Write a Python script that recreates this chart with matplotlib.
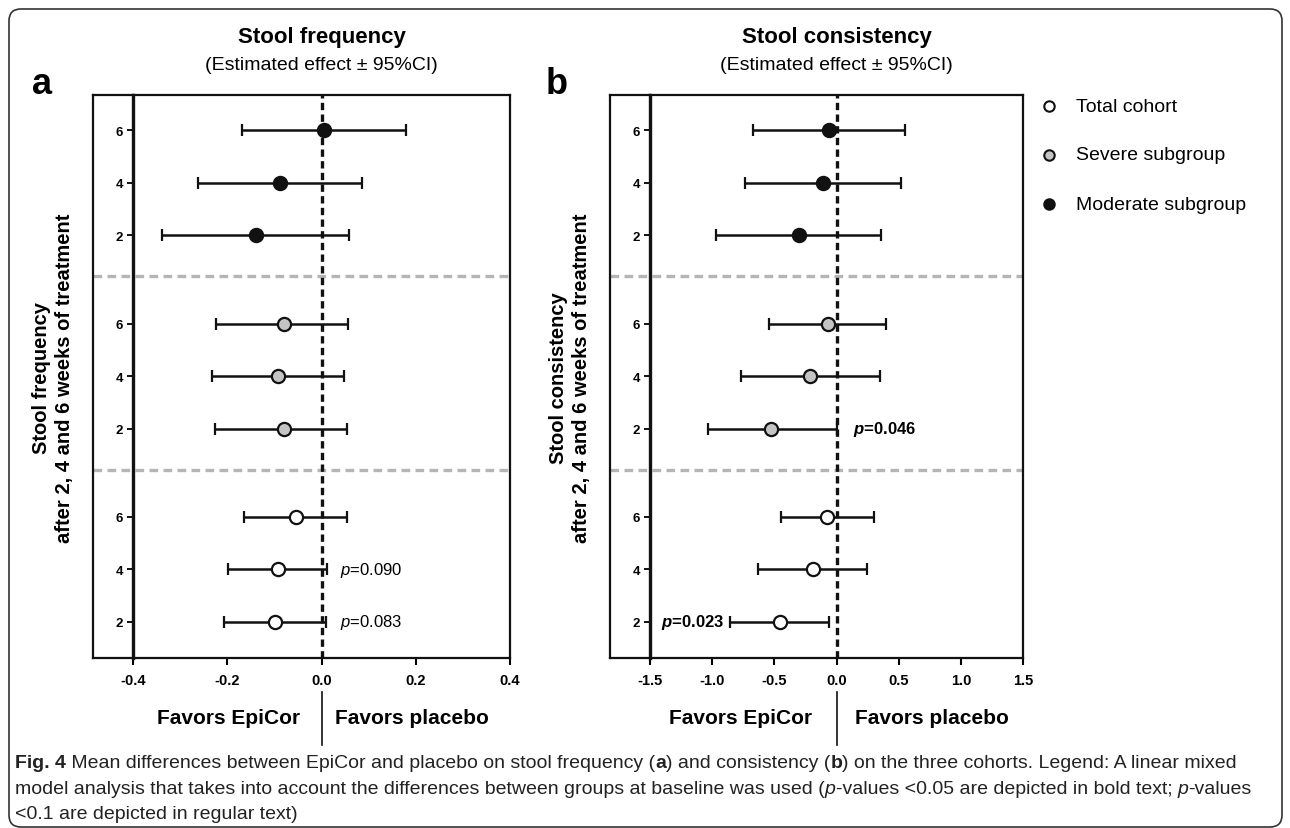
import numpy as np
import matplotlib.pyplot as plt
from matplotlib.lines import Line2D
from matplotlib.patches import FancyBboxPatch

plt.rcParams['font.family'] = ['Liberation Sans', 'DejaVu Sans']
plt.rcParams['mathtext.fontset'] = 'custom'
plt.rcParams['mathtext.rm'] = 'Liberation Sans'
plt.rcParams['mathtext.it'] = 'Liberation Sans:italic'
plt.rcParams['mathtext.bf'] = 'Liberation Sans:bold'
plt.rcParams['mathtext.bfit'] = 'Liberation Sans:italic:bold'

# weeks of treatment (rows inside each cohort block, bottom to top)
weeks = [2, 4, 6]
group_names = ['Total cohort', 'Severe subgroup', 'Moderate subgroup']

# Stool frequency: estimated effect and 95% CI, weeks 2, 4, 6
freq_total_est = [-0.098, -0.093, -0.054]
freq_total_lo = [-0.207, -0.199, -0.164]
freq_total_hi = [0.010, 0.012, 0.055]
freq_severe_est = [-0.080, -0.092, -0.080]
freq_severe_lo = [-0.226, -0.232, -0.224]
freq_severe_hi = [0.054, 0.048, 0.057]
freq_moderate_est = [-0.140, -0.089, 0.006]
freq_moderate_lo = [-0.338, -0.263, -0.168]
freq_moderate_hi = [0.058, 0.085, 0.180]

# Stool consistency
cons_total_est = [-0.458, -0.193, -0.075]
cons_total_lo = [-0.858, -0.630, -0.450]
cons_total_hi = [-0.060, 0.243, 0.300]
cons_severe_est = [-0.530, -0.210, -0.070]
cons_severe_lo = [-1.030, -0.770, -0.540]
cons_severe_hi = [0.000, 0.350, 0.400]
cons_moderate_est = [-0.305, -0.110, -0.060]
cons_moderate_lo = [-0.970, -0.735, -0.675]
cons_moderate_hi = [0.354, 0.515, 0.550]

freq_ticks = [-0.4, -0.2, 0.0, 0.2, 0.4]
cons_ticks = [-1.5, -1.0, -0.5, 0.0, 0.5, 1.0, 1.5]

# layout of the three cohort blocks on the y axis
group_base = [0.0, 3.68, 7.37]
separators = [2.9, 6.59]
group_faces = ['white', '#c4c4c4', '#111111']

W, H = 1290, 829
fig = plt.figure(figsize=(W / 100, H / 100), dpi=100)


def px_rect(x0, y0, x1, y1):
    return [x0 / W, 1 - y1 / H, (x1 - x0) / W, (y1 - y0) / H]


def draw_panel(ax, ests, los, his, ticks, fmt):
    for g in range(3):
        est = np.array(ests[g])
        lo = np.array(los[g])
        hi = np.array(his[g])
        y = group_base[g] + np.arange(len(weeks))
        ax.errorbar(est, y, xerr=[est - lo, hi - est], fmt='o', ms=9.5,
                    mfc=group_faces[g], mec='#111111', mew=1.6,
                    ecolor='#111111', elinewidth=1.8, capsize=4.5,
                    capthick=1.8, zorder=3)
    ax.axvline(0, color='#111111', lw=2.4, ls=(0, (2.2, 1.3)), zorder=2)
    ytr = ax.get_yaxis_transform()
    for s in separators:
        ax.plot([-0.106, 1], [s, s], transform=ytr, clip_on=False,
                color='#b5b5b5', lw=2.4, ls=(0, (2.6, 1.6)), zorder=1)
    # outer frame to the left of the y axis
    for xs, ys in [([-0.106, -0.106], [0, 1]), ([-0.106, 0], [1, 1]),
                   ([-0.106, 0], [0, 0])]:
        ax.plot(xs, ys, transform=ax.transAxes, clip_on=False,
                color='#111111', lw=1.6)
    ax.set_xlim(ticks[0], ticks[-1])
    ax.set_ylim(-0.69, 10.04)
    ax.set_xticks(ticks, [fmt % t for t in ticks], fontweight='bold',
                  fontsize=10.5)
    ypos = [b + i for b in group_base for i in range(len(weeks))]
    ax.set_yticks(ypos, [str(w) for w in weeks] * 3, fontweight='bold',
                  fontsize=9.5)
    ax.tick_params(axis='x', direction='out', length=5, width=1.5, pad=6)
    ax.tick_params(axis='y', direction='out', length=4, width=1.3, pad=3)
    for name, sp in ax.spines.items():
        sp.set_color('#111111')
        sp.set_linewidth(2.4 if name == 'left' else 1.6)


ax_a = fig.add_axes(px_rect(133, 96, 510, 659))
draw_panel(ax_a, [freq_total_est, freq_severe_est, freq_moderate_est],
           [freq_total_lo, freq_severe_lo, freq_moderate_lo],
           [freq_total_hi, freq_severe_hi, freq_moderate_hi],
           freq_ticks, '%.1f')
ax_a.text(0.04, group_base[0] + 1, '$\\mathit{p}$=0.090', fontsize=12,
          va='center', ha='left')
ax_a.text(0.04, group_base[0], '$\\mathit{p}$=0.083', fontsize=12,
          va='center', ha='left')

ax_b = fig.add_axes(px_rect(650, 96, 1023, 659))
draw_panel(ax_b, [cons_total_est, cons_severe_est, cons_moderate_est],
           [cons_total_lo, cons_severe_lo, cons_moderate_lo],
           [cons_total_hi, cons_severe_hi, cons_moderate_hi],
           cons_ticks, '%.1f')
ax_b.text(0.13, group_base[1], '$\\mathbfit{p}$=0.046', fontsize=12,
          fontweight='bold', va='center', ha='left')
ax_b.text(-0.9, group_base[0], '$\\mathbfit{p}$=0.023', fontsize=12,
          fontweight='bold', va='center', ha='right')

# titles
for cx, title in [(321.5, 'Stool frequency'), (836.7, 'Stool consistency')]:
    fig.text(cx / W, 1 - 37 / H, title, ha='center', va='center',
             fontsize=16, fontweight='bold')
    fig.text(cx / W, 1 - 65 / H, '(Estimated effect \u00b1 95%CI)',
             ha='center', va='center', fontsize=14)

fig.text(42 / W, 1 - 84 / H, 'a', fontsize=26, fontweight='bold',
         ha='center', va='center')
fig.text(557 / W, 1 - 84 / H, 'b', fontsize=26, fontweight='bold',
         ha='center', va='center')

# y axis labels
fig.text(53 / W, 1 - 378 / H,
         'Stool frequency\nafter 2, 4 and 6 weeks of treatment',
         rotation=90, ha='center', va='center', fontsize=14.5,
         fontweight='bold', linespacing=1.3, multialignment='center')
fig.text(570 / W, 1 - 378 / H,
         'Stool consistency\nafter 2, 4 and 6 weeks of treatment',
         rotation=90, ha='center', va='center', fontsize=14.5,
         fontweight='bold', linespacing=1.3, multialignment='center')

# favors annotations under each panel
for xdiv, xl, xr in [(321.5, 300, 335), (836.7, 812, 855)]:
    fig.add_artist(Line2D([xdiv / W, xdiv / W], [1 - 693 / H, 1 - 746 / H],
                          color='#111111', lw=1.2))
    fig.text(xl / W, 1 - 719 / H, 'Favors EpiCor', ha='right', va='center',
             fontsize=15, fontweight='bold')
    fig.text(xr / W, 1 - 719 / H, 'Favors placebo', ha='left', va='center',
             fontsize=15, fontweight='bold')

# legend
for i, name in enumerate(group_names):
    yy = 1 - [107, 156, 205][i] / H
    fig.add_artist(Line2D([1049 / W], [yy], marker='o', ms=7.5,
                          mfc=group_faces[i], mec='#111111', mew=1.5,
                          ls='none'))
    fig.text(1076 / W, yy, name, ha='left', va='center', fontsize=14)

# caption, built from runs of regular / bold / italic text
cap_font = ['Liberation Sans Narrow', 'Liberation Sans', 'DejaVu Sans']
caption_lines = [
    [('Fig. 4', 'bold', 'normal'),
     (' Mean differences between EpiCor and placebo on stool frequency (',
      'normal', 'normal'),
     ('a', 'bold', 'normal'), (') and consistency (', 'normal', 'normal'),
     ('b', 'bold', 'normal'),
     (') on the three cohorts. Legend: A linear mixed', 'normal', 'normal')],
    [('model analysis that takes into account the differences between groups '
      'at baseline was used (', 'normal', 'normal'),
     ('p', 'normal', 'italic'),
     ('-values <0.05 are depicted in bold text; ', 'normal', 'normal'),
     ('p', 'normal', 'italic'), ('-values', 'normal', 'normal')],
    [('<0.1 are depicted in regular text)', 'normal', 'normal')],
]
renderer = fig.canvas.get_renderer()
for line, ypx in zip(caption_lines, [764, 790, 815]):
    x = 15 / W
    for txt, weight, style in line:
        t = fig.text(x, 1 - ypx / H, txt, ha='left', va='center',
                     fontsize=14, fontweight=weight, fontstyle=style,
                     family=cap_font, color='#222222')
        x += t.get_window_extent(renderer).width / W

# rounded frame around the whole figure
fig.add_artist(FancyBboxPatch((9, 1), 1273, 818, transform=None,
                              boxstyle='round,pad=0,rounding_size=12',
                              fill=False, ec='#333333', lw=1.2))

fig.savefig('out.png', dpi=100)
